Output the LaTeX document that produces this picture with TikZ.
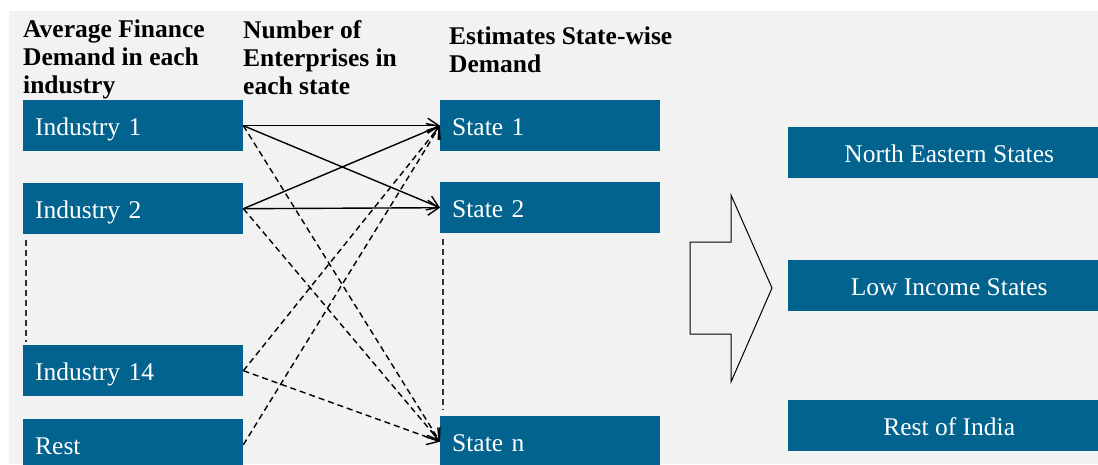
\documentclass[tikz,border=0pt]{standalone}
\usepackage{fontspec}
\setmainfont{Liberation Serif}
\usetikzlibrary{arrows.meta,positioning}
\definecolor{bgGray}{HTML}{F2F2F2}
\definecolor{boxBlue}{HTML}{02638F}

\begin{document}
\begin{tikzpicture}[x=1pt, y=-1pt,
    box/.style={fill=boxBlue, text=white, anchor=north west, inner ysep=0pt,
        minimum height=51pt, text height=20pt, text depth=1pt,
        font=\fontsize{25.5}{28}\selectfont},
    srcbox/.style={box, inner xsep=12pt, text width=196pt, align=left},
    regbox/.style={box, inner xsep=0pt, minimum width=322pt, align=center},
    head/.style={anchor=north west, inner sep=0pt, align=left,
        font=\fontsize{25.5}{28}\selectfont\bfseries},
    flow/.style={-{Straight Barb[length=11pt, width=15pt]}, line width=1.4pt},
    flowdash/.style={flow, dash pattern=on 6pt off 4pt},
    gap/.style={line width=1.5pt, dash pattern=on 6pt off 4pt, black!80}]
    % Page and grey background
    \useasboundingbox (0,0) rectangle (1098,464);
    \fill[bgGray] (9,11) rectangle (1098,464);

    % Column headings
    \node[head] (hInd) at (23,20) {Average Finance\\Demand in each\\industry};
    \node[head] (hEnt) at (243,20) {Number of\\Enterprises in\\each state};
    \node[head] (hEst) at (449,27) {Estimates State-wise\\Demand};

    % Industries (left column)
    \node[srcbox] (ind1) at (23,100) {Industry 1};
    \node[srcbox] (ind2) at (23,183) {Industry 2};
    \node[srcbox] (ind14) at (23,345) {Industry 14};
    \node[srcbox] (rest) at (23,419) {Rest};

    % States (middle column)
    \node[srcbox] (st1) at (440,100) {State 1};
    \node[srcbox] (st2) at (440,182) {State 2};
    \node[srcbox] (stn) at (440,416) {State n};

    % Regions (right column, running off the page)
    \node[regbox] (ne) at (788,127) {North Eastern States};
    \node[regbox] (low) at (788,260) {Low Income States};
    \node[regbox] (roi) at (788,400) {Rest of India};

    % Omitted rows
    \draw[gap] ([xshift=3pt, yshift=-6pt]ind2.south west) -- ([xshift=3pt, yshift=3pt]ind14.north west);
    \draw[gap] ([xshift=3pt, yshift=-6pt]st2.south west) -- ([xshift=3pt, yshift=6pt]stn.north west);

    % Industry to state links
    \draw[flow] (ind1.east) -- (st1.west);
    \draw[flow] (ind1.east) -- (st2.west);
    \draw[flowdash] (ind1.east) -- (stn.west);
    \draw[flow] (ind2.east) -- (st1.west);
    \draw[flow] (ind2.east) -- (st2.west);
    \draw[flowdash] (ind2.east) -- (stn.west);
    \draw[flowdash] (ind14.east) -- (st1.west);
    \draw[flowdash] (ind14.east) -- (stn.west);
    \draw[flowdash] (rest.east) -- (st1.west);

    % Block arrow towards the regions
    \draw[line width=1pt, line join=miter] (690,242) -- (731,242) -- (731,195) -- (772,288)
        -- (731,382) -- (731,334) -- (690,334) -- cycle;
\end{tikzpicture}
\end{document}
